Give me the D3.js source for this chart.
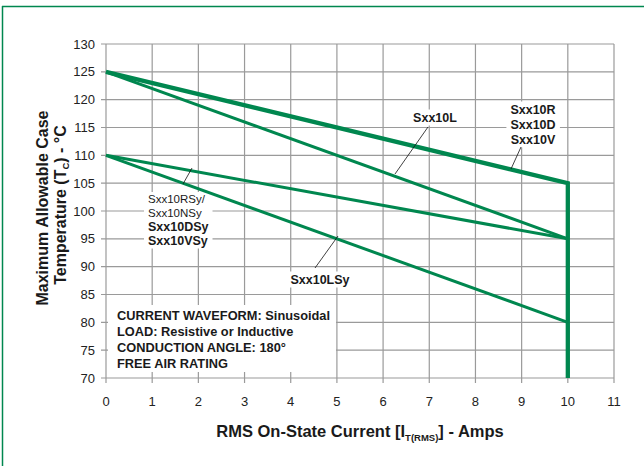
<!DOCTYPE html>
<html>
<head>
<meta charset="utf-8">
<script src="https://cdn.jsdelivr.net/npm/d3@7"></script>
<style>
  body { margin: 0; background: #fff; }
  svg { font-family: "Liberation Sans", Arial, sans-serif; }
</style>
</head>
<body>
<svg id="canvas" width="644" height="466"></svg>
<script>
// chart values
let xTicks = [0, 1, 2, 3, 4, 5, 6, 7, 8, 9, 10, 11];
let yTicks = [70, 75, 80, 85, 90, 95, 100, 105, 110, 115, 120, 125, 130];

let seriesNames = ['Sxx10R/D/V', 'Sxx10L', 'Sxx10RSy/NSy/DSy/VSy', 'Sxx10LSy'];
let seriesCurrent = [[0, 10, 10], [0, 10], [0, 10], [0, 10]];
let seriesTemp = [[125, 105, 70], [125, 95], [110, 95], [110, 80]];
let seriesWidth = [4.3, 3, 3, 3];

let infoLines = [
	'CURRENT WAVEFORM: Sinusoidal',
	'LOAD: Resistive or Inductive',
	'CONDUCTION ANGLE: 180°',
	'FREE AIR RATING'
];

let green = '#00874f';
let canvas = d3.select('#canvas');

let x = d3.scaleLinear().domain([0, 11]).range([106, 614]);
let y = d3.scaleLinear().domain([70, 130]).range([378, 44]);

// frame
canvas.append('line').attr('x1', 2).attr('y1', 6.5).attr('x2', 644).attr('y2', 6.5)
	.attr('stroke', green).attr('stroke-width', 1.5);
canvas.append('line').attr('x1', 2.5).attr('y1', 6).attr('x2', 2.5).attr('y2', 466)
	.attr('stroke', green).attr('stroke-width', 1.5);

// grid
let grid = canvas.append('g').attr('stroke', '#9a9a9a').attr('stroke-width', 1.2);
grid.selectAll('.vg').data(xTicks).enter().append('line')
	.attr('x1', (d) => x(d)).attr('x2', (d) => x(d))
	.attr('y1', y(130)).attr('y2', y(70) + 5);
grid.selectAll('.hg').data(yTicks).enter().append('line')
	.attr('y1', (d) => y(d)).attr('y2', (d) => y(d))
	.attr('x1', x(0) - 5).attr('x2', x(11));

// tick labels
canvas.selectAll('.xl').data(xTicks).enter().append('text')
	.attr('x', (d) => x(d)).attr('y', 406)
	.attr('text-anchor', 'middle').attr('font-size', 13).attr('fill', '#222')
	.text((d) => d);
canvas.selectAll('.yl').data(yTicks).enter().append('text')
	.attr('x', 95).attr('y', (d) => y(d) + 4.5)
	.attr('text-anchor', 'end').attr('font-size', 13).attr('fill', '#222')
	.text((d) => d);

// white patches behind the notes
let labelLayer = canvas.append('g');

let info = labelLayer.append('g');
info.append('rect').attr('x', 108).attr('y', 305).attr('width', 228).attr('height', 67).attr('fill', '#fff');
info.selectAll('text').data(infoLines).enter().append('text')
	.attr('x', 117).attr('y', (d, i) => 319.5 + i * 16)
	.attr('font-size', 12.8).attr('font-weight', 'bold').attr('fill', '#1a1a1a')
	.text((d) => d);

// series
let line = d3.line().x((d) => x(d[0])).y((d) => y(d[1]));
seriesNames.forEach((name, i) => {
	let pts = seriesCurrent[i].map((c, j) => [c, seriesTemp[i][j]]);
	canvas.append('path')
		.attr('d', line(pts))
		.attr('fill', 'none')
		.attr('stroke', green)
		.attr('stroke-width', seriesWidth[i])
		.attr('stroke-linejoin', 'miter')
		.attr('data-name', name);
});

// curve notes
let notes = [
	{ lines: ['Sxx10L'], bold: [true], cx: 435, y0: 121.5, anchor: 'middle' },
	{ lines: ['Sxx10R', 'Sxx10D', 'Sxx10V'], bold: [true, true, true], cx: 533, y0: 113.5, anchor: 'middle' },
	{ lines: ['Sxx10RSy/', 'Sxx10NSy', 'Sxx10DSy', 'Sxx10VSy'], bold: [false, false, true, true], cx: 148, y0: 203, anchor: 'start' },
	{ lines: ['Sxx10LSy'], bold: [true], cx: 320, y0: 283.5, anchor: 'middle' }
];
let steps = [[0], [0, 15, 30], [0, 14, 27.5, 41.5], [0]];
notes.forEach((n, k) => {
	let g = labelLayer.append('g');
	let bg = g.append('rect').attr('fill', '#fff');
	n.lines.forEach((t, i) => {
		g.append('text')
			.attr('x', n.cx).attr('y', n.y0 + steps[k][i])
			.attr('text-anchor', n.anchor)
			.attr('font-size', n.bold[i] ? 12.5 : 11.5)
			.attr('font-weight', n.bold[i] ? 'bold' : 'normal')
			.attr('fill', '#1a1a1a')
			.text(t);
	});
	let b = g.node().getBBox();
	bg.attr('x', b.x - 4).attr('y', b.y - 1).attr('width', b.width + 8).attr('height', b.height + 2);
});

// leader lines
let leaders = [[428, 127, 395, 174], [521, 147, 511, 169], [183, 184, 192, 168], [315, 268, 338, 236]];
canvas.selectAll('.leader').data(leaders).enter().append('line')
	.attr('x1', (d) => d[0]).attr('y1', (d) => d[1])
	.attr('x2', (d) => d[2]).attr('y2', (d) => d[3])
	.attr('stroke', '#111').attr('stroke-width', 0.8);

// axis titles
let xt = canvas.append('text')
	.attr('x', 360).attr('y', 437)
	.attr('text-anchor', 'middle').attr('font-size', 16.5).attr('font-weight', 'bold').attr('fill', '#1a1a1a');
xt.append('tspan').text('RMS On-State Current [I');
xt.append('tspan').attr('font-size', 9.5).attr('dy', 3.5).text('T(RMS)');
xt.append('tspan').attr('dy', -3.5).text('] - Amps');

canvas.append('text')
	.attr('transform', 'translate(48,208) rotate(-90)')
	.attr('text-anchor', 'middle').attr('font-size', 16).attr('font-weight', 'bold').attr('fill', '#1a1a1a')
	.text('Maximum Allowable Case');
let yt2 = canvas.append('text')
	.attr('transform', 'translate(66,205) rotate(-90)')
	.attr('text-anchor', 'middle').attr('font-size', 16).attr('font-weight', 'bold').attr('fill', '#1a1a1a');
yt2.append('tspan').text('Temperature (T');
yt2.append('tspan').attr('font-size', 9.5).attr('dy', 3).text('C');
yt2.append('tspan').attr('dy', -3).text(') - °C');
</script>
</body>
</html>
